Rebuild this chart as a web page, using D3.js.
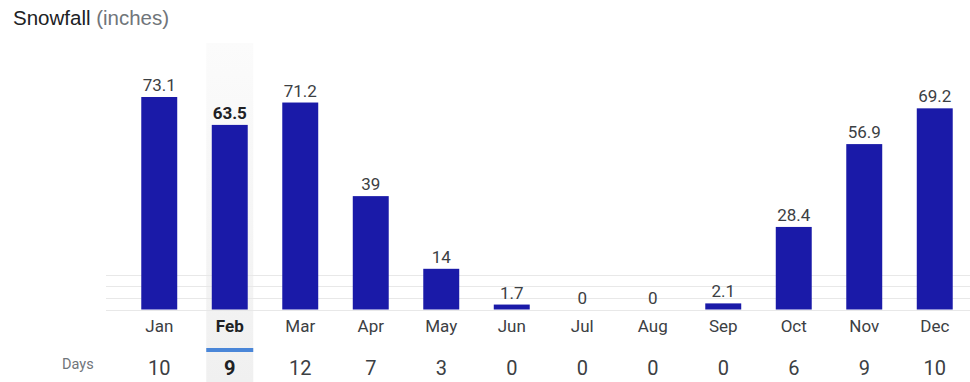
<!DOCTYPE html>
<html><head><meta charset="utf-8">
<script src="https://cdn.jsdelivr.net/npm/d3@7"></script>
<style>
body{margin:0;background:#fff;}
svg{display:block;}
</style></head>
<body><svg id="c" width="970" height="382"></svg>
<script>
const months = ["Jan","Feb","Mar","Apr","May","Jun","Jul","Aug","Sep","Oct","Nov","Dec"];
const snowfall = [73.1,63.5,71.2,39,14,1.7,0,0,2.1,28.4,56.9,69.2];
const snowfallLabels = ["73.1","63.5","71.2","39","14","1.7","0","0","2.1","28.4","56.9","69.2"];
const days = [10,9,12,7,3,0,0,0,0,6,9,10];
const gridValues = [4,8,12];
const selected = "Feb";

const svg = d3.select("#c");
const x = d3.scaleBand().domain(months).range([124,970]).paddingInner(0.49).paddingOuter(0.245);
const y = d3.scaleLinear().domain([0,73.1]).range([309.5,97]);

// highlight column
const hx = x(selected) + x.bandwidth()/2;
const grad = svg.append("defs").append("linearGradient").attr("id","hg").attr("x1",0).attr("x2",0).attr("y1",0).attr("y2",1);
grad.append("stop").attr("offset","0").attr("stop-color","#fbfbfb");
grad.append("stop").attr("offset","1").attr("stop-color","#f0f0f0");
svg.append("rect").attr("x",hx-23.5).attr("y",43).attr("width",47).attr("height",339).attr("fill","url(#hg)");

// grid lines
svg.append("g").selectAll("line").data(gridValues).join("line")
  .attr("x1",106).attr("x2",970)
  .attr("y1",d=>Math.round(y(d))+0.5).attr("y2",d=>Math.round(y(d))+0.5)
  .attr("stroke","#e8e8e8").attr("stroke-width",1);
svg.append("line").attr("x1",106).attr("x2",970).attr("y1",310.5).attr("y2",310.5).attr("stroke","#e8e8e8");

// bars
svg.append("g").selectAll("rect").data(months).join("rect")
  .attr("x",d=>x(d)).attr("width",x.bandwidth())
  .attr("y",(d,i)=>y(snowfall[i])).attr("height",(d,i)=>y(0)-y(snowfall[i]))
  .attr("fill","#1a1aa8");

// value labels
svg.append("g").selectAll("text").data(months).join("text")
  .attr("x",d=>x(d)+x.bandwidth()/2)
  .attr("y",(d,i)=>y(snowfall[i])-6)
  .attr("text-anchor","middle")
  .attr("font-family","Roboto, Arial, sans-serif")
  .attr("font-size",17)
  .attr("font-weight",d=>d===selected?"bold":"normal")
  .attr("fill",d=>d===selected?"#202124":"#3c4043")
  .text((d,i)=>snowfallLabels[i]);

// x axis month labels
const xAxis = d3.axisBottom(x).tickSize(0).tickPadding(0);
const ax = svg.append("g").attr("transform","translate(0,320)").call(xAxis);
ax.select(".domain").remove();
ax.selectAll("text")
  .attr("font-family","Roboto, Arial, sans-serif")
  .attr("font-size",17)
  .attr("fill",d=>d===selected?"#202124":"#3c4043")
  .attr("font-weight",d=>d===selected?"bold":"normal");

// selected underline
svg.append("rect").attr("x",hx-23.5).attr("y",348).attr("width",47).attr("height",4).attr("fill","#4a86d8");

// days row
svg.append("text").attr("x",62).attr("y",369).attr("font-family","Roboto, Arial, sans-serif")
  .attr("font-size",14.5).attr("fill","#70757a").text("Days");
svg.append("g").selectAll("text").data(months).join("text")
  .attr("x",d=>x(d)+x.bandwidth()/2).attr("y",375)
  .attr("text-anchor","middle")
  .attr("font-family","Roboto, Arial, sans-serif")
  .attr("font-size",20)
  .attr("font-weight",d=>d===selected?"bold":"normal")
  .attr("fill",d=>d===selected?"#202124":"#3c4043")
  .text((d,i)=>days[i]);

// title
const t = svg.append("text").attr("x",13).attr("y",25).attr("font-family","Arial, 'Liberation Sans', sans-serif").attr("font-size",20.5);
t.append("tspan").attr("fill","#202124").text("Snowfall ");
t.append("tspan").attr("fill","#70757a").text("(inches)");
</script></body></html>
